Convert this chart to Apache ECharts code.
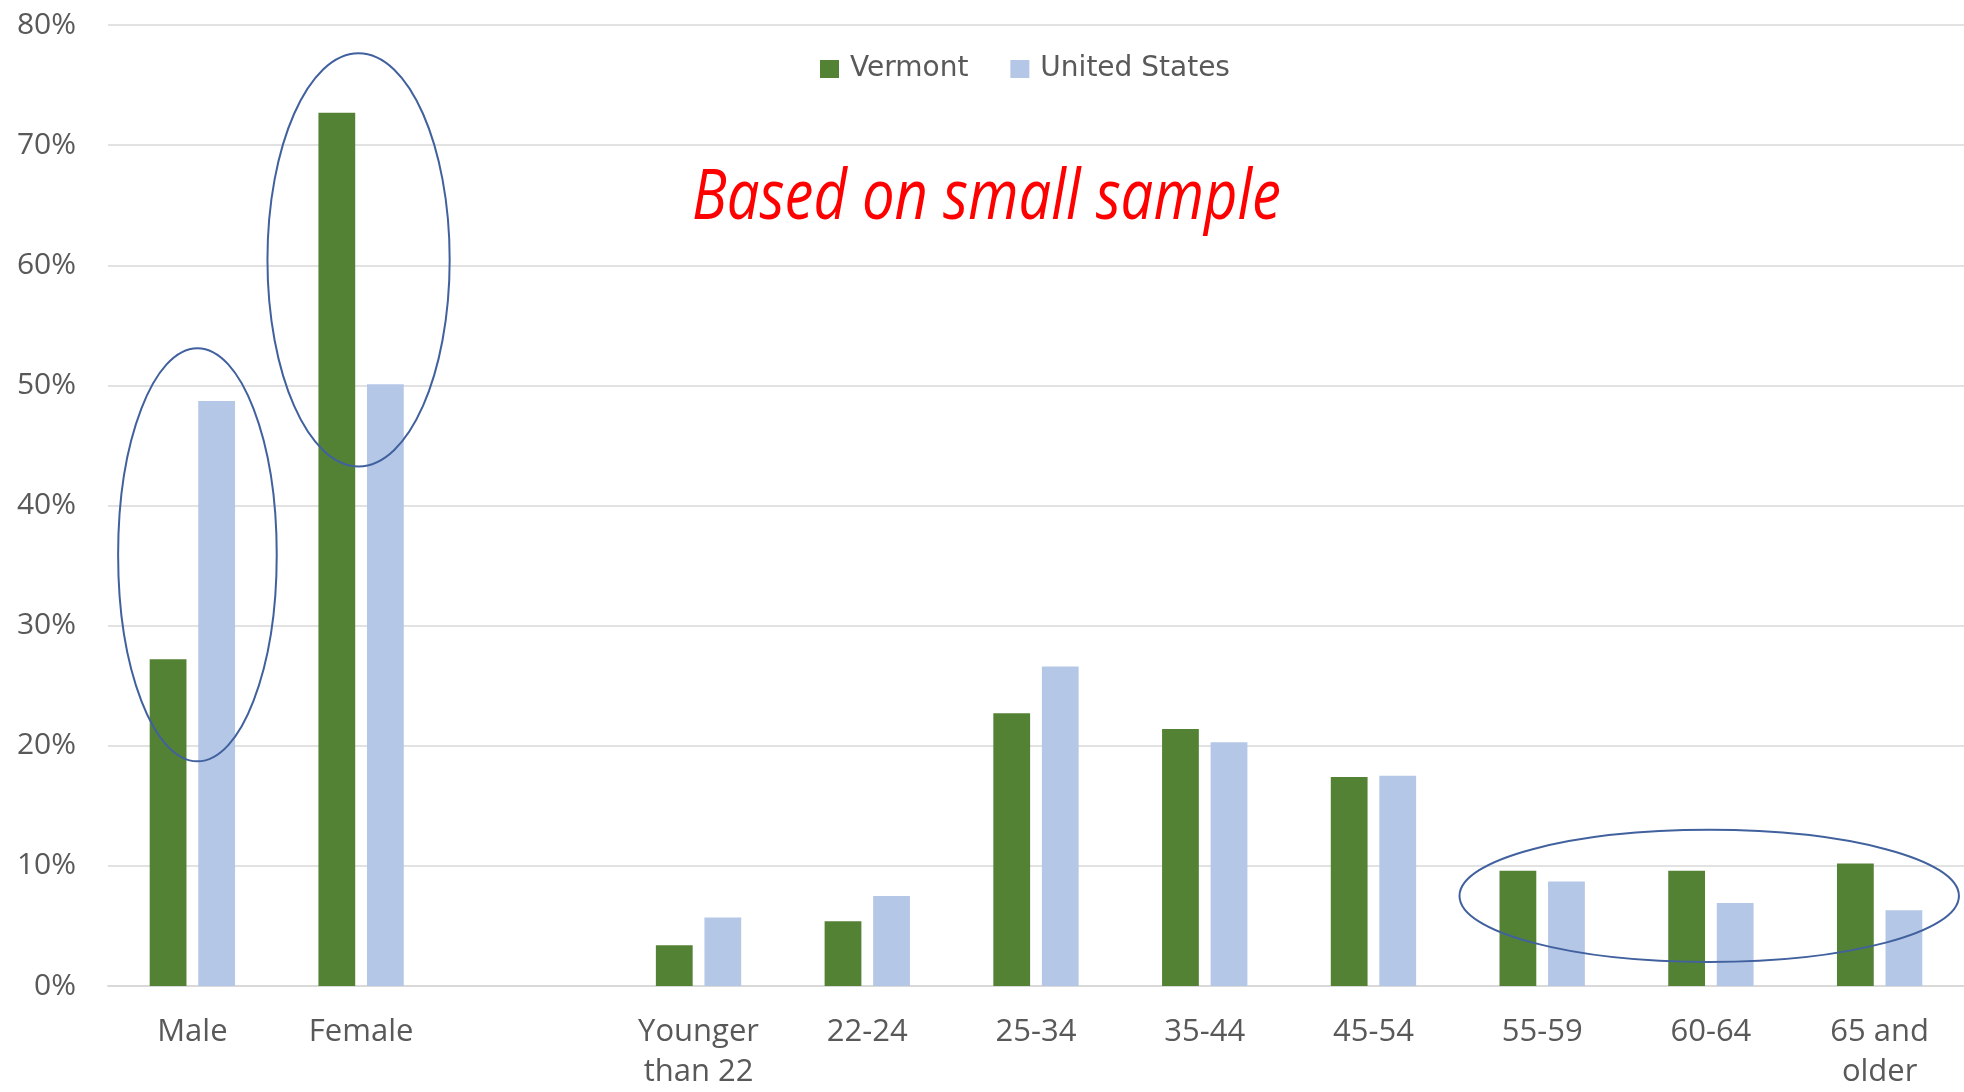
<!DOCTYPE html>
<html>
<head>
<meta charset="utf-8">
<script src="https://cdn.jsdelivr.net/npm/echarts@6/dist/echarts.min.js"></script>
<style>
html,body{margin:0;padding:0;background:#fff;}
#chart{width:1964px;height:1092px;}
</style>
</head>
<body>
<div id="chart"></div>
<script>
const categories = ['Male', 'Female', '', 'Younger\nthan 22', '22-24', '25-34', '35-44', '45-54', '55-59', '60-64', '65 and\nolder'];
const vermont = [27.2, 72.7, null, 3.4, 5.4, 22.7, 21.4, 17.4, 9.6, 9.6, 10.2];
const unitedStates = [48.7, 50.1, null, 5.7, 7.5, 26.6, 20.3, 17.5, 8.7, 6.9, 6.3];
const yTicks = { min: 0, max: 80, interval: 10 };
// annotation ellipses: [category index, value centre, radius in bands, radius in %]
const ellipses = [
  [0.03, 35.9, 0.47, 17.2],
  [0.985, 60.45, 0.54, 17.2],
  [8.99, 7.5, 1.48, 5.5]
];
const note = 'Based on small sample';

const font = '"Open Sans", "Noto Sans", sans-serif';
const chart = echarts.init(document.getElementById('chart'));
chart.setOption({
  animation: false,
  backgroundColor: '#ffffff',
  legend: {
    data: ['Vermont', 'United States'],
    left: 815,
    top: 50,
    itemWidth: 19,
    itemHeight: 18,
    itemGap: 42,
    icon: 'rect',
    textStyle: { color: '#595959', fontFamily: '"DejaVu Sans", sans-serif', fontSize: 28, padding: [0, 0, 0, 6] }
  },
  grid: { left: 108, width: 1871, top: 25, bottom: 95, containLabel: false },
  xAxis: {
    type: 'category',
    data: categories,
    axisLine: { show: true, lineStyle: { color: '#D9D9D9', width: 2 } },
    axisTick: { show: false },
    axisLabel: { color: '#595959', fontFamily: font, fontSize: 31, lineHeight: 40, margin: 26, interval: 0 },
    splitLine: { show: false }
  },
  yAxis: {
    type: 'value',
    min: yTicks.min,
    max: yTicks.max,
    interval: yTicks.interval,
    axisLine: { show: false },
    axisTick: { show: false },
    axisLabel: { color: '#595959', fontFamily: font, fontSize: 30, margin: 32, formatter: '{value}%' },
    splitLine: { lineStyle: { color: '#E2E2E2', width: 2 } }
  },
  series: [
    { name: 'Vermont', type: 'bar', data: vermont, barWidth: '21.8%', barGap: '32%', itemStyle: { color: '#548235' } },
    { name: 'United States', type: 'bar', data: unitedStates, barWidth: '21.8%', itemStyle: { color: '#B4C7E7' } }
  ]
});

function drawAnnotations() {
  const p0 = chart.convertToPixel({ gridIndex: 0 }, [0, 0]);
  const p1 = chart.convertToPixel({ gridIndex: 0 }, [1, 0]);
  const band = p1[0] - p0[0];
  const elements = ellipses.map(function (e, i) {
    const base = chart.convertToPixel({ gridIndex: 0 }, [0, e[1]]);
    const top = chart.convertToPixel({ gridIndex: 0 }, [0, e[1] + e[3]]);
    const cx = p0[0] + e[0] * band;
    return {
      type: 'ellipse',
      id: 'ell' + i,
      z: 100,
      shape: { cx: cx, cy: base[1], rx: e[2] * band, ry: base[1] - top[1] },
      style: { fill: 'none', stroke: '#41619E', lineWidth: 2 }
    };
  });
  elements.push({
    type: 'text',
    id: 'note',
    x: 692,
    y: 165,
    scaleX: 0.84,
    z: 100,
    style: {
      text: note,
      fill: '#FF0000',
      fontFamily: font,
      fontStyle: 'italic',
      fontSize: 69,
      verticalAlign: 'top',
      align: 'left'
    }
  });
  chart.setOption({ graphic: { elements: elements } });
}
drawAnnotations();
</script>
</body>
</html>
